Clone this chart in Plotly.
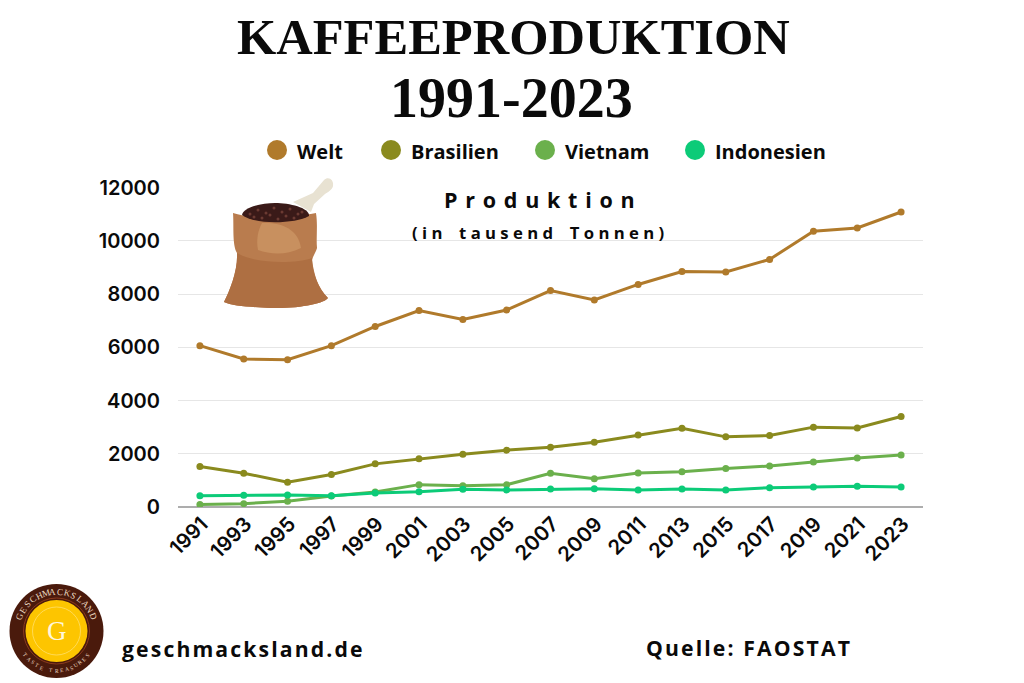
import math
import plotly.graph_objects as go

years = ['1991', '1993', '1995', '1997', '1999', '2001', '2003', '2005', '2007',
         '2009', '2011', '2013', '2015', '2017', '2019', '2021', '2023']

welt = [6060, 5560, 5530, 6060, 6780, 7380, 7040, 7400, 8130, 7775, 8360, 8845, 8830, 9300, 10360, 10480, 11080]
brasilien = [1520, 1270, 930, 1220, 1620, 1810, 1985, 2135, 2245, 2435, 2700, 2960, 2635, 2685, 3000, 2970, 3400]
vietnam = [90, 125, 215, 415, 560, 840, 800, 835, 1265, 1060, 1275, 1325, 1450, 1540, 1690, 1840, 1955]
indonesien = [425, 440, 450, 425, 525, 575, 665, 640, 675, 690, 640, 675, 640, 725, 750, 775, 750]

series_names = ['Welt', 'Brasilien', 'Vietnam', 'Indonesien']
series_values = [welt, brasilien, vietnam, indonesien]
series_colors = ['#B07A2B', '#8A8A1E', '#6BB04C', '#0CCB78']
legend_dot_x = [277, 391, 545, 695]
y_ticks = [0, 2000, 4000, 6000, 8000, 10000, 12000]

# page is 1024x683 but the body keeps its 8px margin
PAGE_W, PAGE_H, BODY = 1024, 683, 8
LEFT, RIGHT, TOP, BOTTOM = 178, 923, 187, 507
Y_MAX = 12020

TEXT = '#0A0A0A'
SANS = 'Open Sans'
HAIR = '\u200a'


# pixel position on the page -> paper coordinates
def px(x):
    return (x - LEFT) / (RIGHT - LEFT)


def py(y):
    return (BOTTOM - y) / (BOTTOM - TOP)


def path(cmds):
    out = []
    for c in cmds:
        out.append(c[0] + ' '.join(f'{px(c[i]):.4f},{py(c[i + 1]):.4f}' for i in range(1, len(c), 2)))
    return ' '.join(out) + ' Z'


def blob(cmds, fill):
    return dict(type='path', xref='paper', yref='paper', path=path(cmds), fillcolor=fill,
                line=dict(width=0), layer='above')


def circle(cx, cy, r, fill='rgba(0,0,0,0)', line_color=None, line_width=0):
    return dict(type='circle', xref='paper', yref='paper', x0=px(cx - r), x1=px(cx + r),
                y0=py(cy + r), y1=py(cy - r), fillcolor=fill,
                line=dict(width=line_width, color=line_color or 'rgba(0,0,0,0)'), layer='above')


def label(x, y, text, size, family=SANS, color=TEXT, anchor='center', angle=0, weight='bold'):
    return dict(xref='paper', yref='paper', x=px(x), y=py(y), text=text, showarrow=False,
                xanchor=anchor, yanchor='middle', textangle=angle,
                font=dict(family=family, size=size, color=color, weight=weight))


fig = go.Figure()
for name, vals, col in zip(series_names, series_values, series_colors):
    fig.add_trace(go.Scatter(x=years, y=vals, name=name, mode='lines+markers',
                             line=dict(color=col, width=3), marker=dict(color=col, size=7)))

shapes = []
annotations = []

# legend
for name, col, dx in zip(series_names, series_colors, legend_dot_x):
    shapes.append(circle(dx, 150, 10, fill=col))
    annotations.append(label(dx + 17.5, 151, name, 20, anchor='left'))

# titles
annotations.append(label(513, 37, 'KAFFEEPRODUKTION', 50.5, family='Liberation Serif'))
annotations.append(label(511, 98, '1991-2023', 56, family='Liberation Serif'))
annotations.append(label(539, 199.5, (' ' + HAIR).join('Produktion'), 21.5))
annotations.append(label(537.5, 232, '( i n&#8195;t a u s e n d&#8195;T o n n e n )', 16.7))

# footer
annotations.append(label(120, 648, HAIR.join('geschmacksland.de'), 21.2, anchor='left'))
annotations.append(label(644, 647, HAIR.join('Quelle: FAOSTAT'), 21.2, anchor='left'))

# sack
shapes.append(blob([('M', 293, 202), ('L', 313, 193), ('L', 324, 180), ('C', 328, 176, 334, 179, 333, 186),
                    ('C', 332, 190, 328, 192, 325, 194), ('L', 314, 204), ('L', 311, 212)], '#E8E2D2'))
shapes.append(blob([('M', 233, 213), ('C', 250, 219, 290, 218, 316, 213), ('C', 318, 225, 316, 238, 317, 248),
                    ('C', 316, 252, 313, 256, 312, 260), ('C', 314, 275, 318, 288, 328, 298),
                    ('C', 325, 303, 300, 309, 270, 308), ('C', 250, 307, 232, 306, 224, 302),
                    ('C', 230, 290, 238, 270, 237, 253), ('C', 232, 245, 234, 225, 233, 213)], '#B97C4E'))
shapes.append(blob([('M', 237, 253), ('C', 255, 264, 295, 264, 312, 258), ('C', 312, 272, 318, 288, 328, 298),
                    ('C', 325, 303, 300, 309, 270, 308), ('C', 250, 307, 232, 306, 224, 302),
                    ('C', 230, 290, 238, 270, 237, 253)], '#AE6F42'))
shapes.append(blob([('M', 262, 223), ('C', 280, 222, 298, 228, 301, 248), ('C', 285, 256, 270, 254, 258, 250),
                    ('C', 256, 240, 258, 230, 262, 223)], '#C8905F'))
shapes.append(blob([('M', 242, 215), ('C', 243, 207, 262, 203, 275, 203), ('C', 290, 203, 310, 208, 309, 216),
                    ('C', 295, 224, 255, 225, 242, 215)], '#3A1A18'))
bean_x = [250, 258, 266, 274, 282, 290, 298, 254, 262, 270, 278, 286, 294, 302]
bean_y = [214, 210, 213, 208, 212, 209, 214, 217, 218, 215, 219, 216, 218, 212]
for bx, by in zip(bean_x, bean_y):
    shapes.append(circle(bx, by, 1.5, fill='#6B3A32'))

# logo
LOGO_X, LOGO_Y = 56.5, 631
shapes.append(circle(LOGO_X, LOGO_Y, 47, fill='#4A1A0C'))
shapes.append(circle(LOGO_X, LOGO_Y, 33, line_color='#8A3A1E', line_width=1))
shapes.append(circle(LOGO_X, LOGO_Y, 31, fill='#FDC500'))
shapes.append(circle(LOGO_X, LOGO_Y, 24, line_color='#FFE27A', line_width=0.7))
annotations.append(label(LOGO_X, LOGO_Y, 'G', 27, family='Liberation Serif', color='#FFF7DC', weight='normal'))
top_word = 'GESCHMACKSLAND'
for i, ch in enumerate(top_word):
    a = -68 + i * 136 / (len(top_word) - 1)
    rad = math.radians(a)
    annotations.append(label(LOGO_X + 39.5 * math.sin(rad), LOGO_Y - 39.5 * math.cos(rad), ch, 9,
                             family='Liberation Serif', color='#EAD9C0', angle=a, weight='normal'))
bottom_word = 'TASTE TREASURES'
for i, ch in enumerate(bottom_word):
    a = -52 + i * 104 / (len(bottom_word) - 1)
    rad = math.radians(a)
    annotations.append(label(LOGO_X + 39.5 * math.sin(rad), LOGO_Y + 39.5 * math.cos(rad), ch, 5.5,
                             family='Liberation Serif', color='#EAD9C0', angle=-a, weight='normal'))

fig.update_layout(
    width=PAGE_W - BODY, height=PAGE_H - BODY,
    margin=dict(l=LEFT - BODY, r=PAGE_W - RIGHT, t=TOP - BODY, b=PAGE_H - BOTTOM, pad=0),
    paper_bgcolor='white', plot_bgcolor='white',
    showlegend=False,
    shapes=shapes, annotations=annotations,
    font=dict(family='Inter', color=TEXT),
)
fig.update_xaxes(type='category', tickangle=-45, range=[-0.5, 16.5], showgrid=False, showline=False, zeroline=False,
                 ticks='', ticklabelshift=2,
                 tickfont=dict(family='Inter', size=20.5, weight=600))
fig.update_yaxes(range=[0, Y_MAX], tickvals=y_ticks, tickformat='d', showgrid=True,
                 gridcolor='#E6E6E6', gridwidth=1.3, zeroline=True, zerolinecolor='#ADADAD', zerolinewidth=1.5,
                 showline=False, ticks='outside', ticklen=13, tickcolor='white',
                 tickfont=dict(family='Inter', size=20, weight=600))

fig.write_html("out.html")
